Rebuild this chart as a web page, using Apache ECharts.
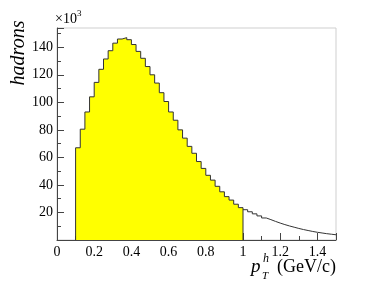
<!DOCTYPE html>
<html>
<head>
<meta charset="utf-8">
<script src="https://cdn.jsdelivr.net/npm/echarts@6/dist/echarts.min.js"></script>
<style>
html, body { margin: 0; padding: 0; background: #fff; }
#chart { width: 374px; height: 286px; }
</style>
</head>
<body>
<div id="chart"></div>
<script>
// bin low edges in GeV/c (bin width 0.025), counts in units of 10^3
var filledEdges = [0.1, 0.125, 0.15, 0.175, 0.2, 0.225, 0.25, 0.275, 0.3, 0.325, 0.35, 0.375,
    0.4, 0.425, 0.45, 0.475, 0.5, 0.525, 0.55, 0.575, 0.6, 0.625, 0.65, 0.675,
    0.7, 0.725, 0.75, 0.775, 0.8, 0.825, 0.85, 0.875, 0.9, 0.925, 0.95, 0.975];
var filledCounts = [67, 80.5, 93, 104, 114.5, 124, 131.5, 137.5, 143, 146, 147, 145.5,
    142, 137, 132, 126, 120, 114, 107, 100.6, 93, 87, 80, 74,
    68, 63, 57, 52, 47, 43.5, 39, 35, 31.5, 29, 26, 23.5];
var tailEdges = [1.0, 1.025, 1.05, 1.075, 1.1, 1.125, 1.15, 1.175, 1.2, 1.225,
    1.25, 1.275, 1.3, 1.325, 1.35, 1.375, 1.4, 1.425, 1.45, 1.475];
var tailCounts = [22, 20.5, 19, 17.5, 16, 14.8, 13.5, 12.3, 11.2, 10.2,
    9.3, 8.4, 7.6, 6.9, 6.2, 5.6, 5.1, 4.6, 4.2, 3.8];
var xTickLabels = ['0', '0.2', '0.4', '0.6', '0.8', '1', '1.2', '1.4'];
var yTickLabels = ['20', '40', '60', '80', '100', '120', '140'];

var serif = '"Liberation Serif", "DejaVu Serif", serif';
var axisColor = '#444';

// step outline points: close the filled part down to the axis at both ends
var filledPts = [[filledEdges[0], 0]];
filledEdges.forEach(function (e, i) { filledPts.push([e, filledCounts[i]]); });
var lastEdge = 1.0;
filledPts.push([lastEdge, filledCounts[filledCounts.length - 1]]);
filledPts.push([lastEdge, 0]);

var tailPts = [];
tailEdges.forEach(function (e, i) { tailPts.push([e, tailCounts[i]]); });
tailPts.push([1.5, tailCounts[tailCounts.length - 1]]);

function label(txt, x, y, size, italic) {
    return {
        type: 'text', x: x, y: y,
        style: {
            text: txt, fontFamily: serif, fontSize: size,
            fontStyle: italic ? 'italic' : 'normal',
            verticalAlign: 'middle', fill: '#000'
        }
    };
}

var chart = echarts.init(document.getElementById('chart'));
var option = {
    animation: false,
    grid: {
        left: 57, right: 38, top: 28, bottom: 46,
        show: true, borderColor: '#cfcfcf', borderWidth: 1
    },
    xAxis: {
        type: 'value', min: 0, max: 1.5, interval: 0.2,
        axisLine: { show: true, lineStyle: { color: axisColor, width: 1 } },
        axisTick: { show: true, inside: true, length: 7, lineStyle: { color: axisColor } },
        minorTick: { show: true, splitNumber: 2, length: 4, lineStyle: { color: axisColor } },
        splitLine: { show: false },
        axisLabel: {
            margin: 5, color: '#000', fontFamily: serif, fontSize: 14,
            formatter: function (v) {
                var s = String(Math.round(v * 10) / 10);
                return xTickLabels.indexOf(s) >= 0 ? s : '';
            }
        }
    },
    yAxis: {
        type: 'value', min: 0, max: 154, interval: 20,
        axisLine: { show: true, lineStyle: { color: axisColor, width: 1 } },
        axisTick: { show: true, inside: true, length: 7, lineStyle: { color: axisColor } },
        minorTick: { show: true, splitNumber: 2, length: 4, lineStyle: { color: axisColor } },
        splitLine: { show: false },
        axisLabel: {
            margin: 4, color: '#000', fontFamily: serif, fontSize: 14,
            formatter: function (v) {
                var s = String(Math.round(v));
                return yTickLabels.indexOf(s) >= 0 ? s : '';
            }
        }
    },
    series: [
        {
            type: 'line', step: 'end', data: filledPts, showSymbol: false,
            lineStyle: { color: '#333', width: 1 },
            areaStyle: { color: '#ffff00', opacity: 1 },
            z: 3
        },
        {
            type: 'line', step: 'end', data: tailPts, showSymbol: false,
            lineStyle: { color: '#333', width: 1 },
            z: 3
        }
    ],
    graphic: [
        label('×10', 55, 19, 14, false),
        label('3', 77, 14, 9, false),
        {
            type: 'text', x: 19, y: 53, rotation: Math.PI / 2,
            style: {
                text: 'hadrons', align: 'center', verticalAlign: 'middle',
                fontFamily: serif, fontStyle: 'italic', fontSize: 20, fill: '#000'
            }
        },
        label('p', 251, 267, 19, true),
        label('h', 263, 259, 12, true),
        label('T', 262, 276, 11, true),
        label('(GeV/c)', 277, 267, 18, false)
    ]
};
chart.setOption(option);
window.addEventListener('resize', function () { chart.resize(); });
</script>
</body>
</html>
